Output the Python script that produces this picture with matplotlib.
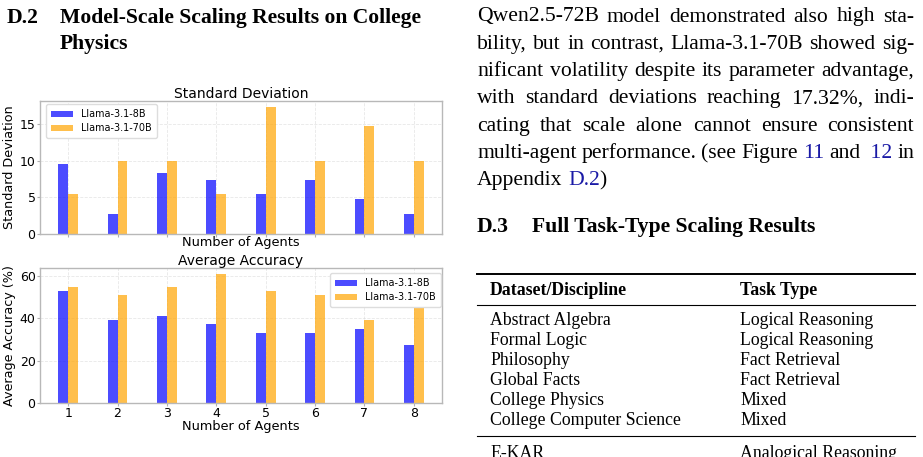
import matplotlib
matplotlib.use("Agg")
import matplotlib.pyplot as plt
import numpy as np
from matplotlib.lines import Line2D

W, H = 923, 457
agents = [1, 2, 3, 4, 5, 6, 7, 8]
models = ["Llama-3.1-8B", "Llama-3.1-70B"]
std_8b = [9.6, 2.7, 8.35, 7.35, 5.5, 7.35, 4.8, 2.7]
std_70b = [5.5, 10.0, 10.0, 5.5, 17.32, 10.0, 14.7, 10.0]
acc_8b = [52.7, 39.1, 41.0, 37.0, 33.1, 33.1, 35.1, 27.2]
acc_70b = [54.6, 50.7, 54.6, 60.6, 52.7, 50.7, 39.1, 45.0]

heading_d2 = ["Model-Scale Scaling Results on College", "Physics"]
body_lines = [
    [[("Qwen2.5-72B", "k")], [("model", "k")], [("demonstrated", "k")], [("also", "k")], [("high", "k")], [("sta-", "k")]],
    [[("bility,", "k")], [("but", "k")], [("in", "k")], [("contrast,", "k")], [("Llama-3.1-70B", "k")], [("showed", "k")], [("sig-", "k")]],
    [[("nificant", "k")], [("volatility", "k")], [("despite", "k")], [("its", "k")], [("parameter", "k")], [("advantage,", "k")]],
    [[("with", "k")], [("standard", "k")], [("deviations", "k")], [("reaching", "k")], [("17.32%,", "k")], [("indi-", "k")]],
    [[("cating", "k")], [("that", "k")], [("scale", "k")], [("alone", "k")], [("cannot", "k")], [("ensure", "k")], [("consistent", "k")]],
    [[("multi-agent", "k")], [("performance.", "k")], [("(see", "k")], [("Figure", "k")], [("11", "#1a1aa6")], [("and", "k")], [(" 12", "#1a1aa6")], [("in", "k")]],
    [[("Appendix", "k")], [("D.2", "#1a1aa6"), (")", "k")]],
]
table_header = ["Dataset/Discipline", "Task Type"]
table_rows = [
    ["Abstract Algebra", "Logical Reasoning"],
    ["Formal Logic", "Logical Reasoning"],
    ["Philosophy", "Fact Retrieval"],
    ["Global Facts", "Fact Retrieval"],
    ["College Physics", "Mixed"],
    ["College Computer Science", "Mixed"],
]
table_next = ["E-KAR", "Analogical Reasoning"]

fig = plt.figure(figsize=(W / 100, H / 100), dpi=100)
fig.patch.set_facecolor("white")

def fx(px):
    return px / W

def fy(py):
    return 1 - py / H

def style_ax(ax):
    for s in ax.spines.values():
        s.set_color("#b8b8b8")
        s.set_linewidth(1.0)
    ax.tick_params(axis="both", colors="#b0b0b0", labelcolor="black", labelsize=9, length=2.4, width=0.8, pad=0.8)
    ax.grid(True, linestyle="--", color="#d0d0d0", alpha=0.5, linewidth=0.6)
    ax.set_axisbelow(True)

x = np.array(agents, dtype=float)
bw = 0.2
leg_kw = dict(fontsize=6.9, frameon=True, handlelength=2.3, handleheight=0.6, borderpad=0.55,
              labelspacing=0.4, borderaxespad=0.0, edgecolor="#dddddd", framealpha=1.0)

ax1 = fig.add_axes([fx(40), fy(234), fx(442 - 40), (234 - 101) / H])
ax1.bar(x - bw / 2, std_8b, bw, color="blue", alpha=0.7, label=models[0])
ax1.bar(x + bw / 2, std_70b, bw, color="orange", alpha=0.7, label=models[1])
ax1.set_title("Standard Deviation", fontsize=10, pad=1.5)
ax1.set_ylabel("Standard Deviation", fontsize=9.2, labelpad=2.5)
ax1.set_xlabel("Number of Agents", fontsize=9.3, labelpad=-1.5)
ax1.set_xticks(agents)
ax1.set_xticklabels([])
ax1.set_yticks([0, 5, 10, 15])
style_ax(ax1)
ax1.legend(loc="upper left", bbox_to_anchor=(fx(46), fy(104)), bbox_transform=fig.transFigure, **leg_kw)

ax2 = fig.add_axes([fx(40), fy(403), fx(442 - 40), (403 - 268) / H])
ax2.bar(x - bw / 2, acc_8b, bw, color="blue", alpha=0.7, label=models[0])
ax2.bar(x + bw / 2, acc_70b, bw, color="orange", alpha=0.7, label=models[1])
ax2.set_title("Average Accuracy", fontsize=10, pad=1.5)
ax2.set_ylabel("Average Accuracy (%)", fontsize=9.2, labelpad=2.5)
ax2.set_xlabel("Number of Agents", fontsize=9.3, labelpad=-0.5)
ax2.set_xticks(agents)
ax2.set_xticklabels([str(a) for a in agents])
ax2.set_yticks([0, 20, 40, 60])
style_ax(ax2)
ax2.legend(loc="upper right", bbox_to_anchor=(fx(441), fy(273)), bbox_transform=fig.transFigure, **leg_kw)

serif = ["Liberation Serif", "DejaVu Serif"]
hfs = 15.6

# Heading D.2
fig.text(fx(7), fy(23), "D.2", fontsize=hfs, fontweight="bold", family=serif, va="baseline")
fig.text(fx(60), fy(23), heading_d2[0], fontsize=hfs, fontweight="bold", family=serif, va="baseline")
fig.text(fx(60), fy(48.5), heading_d2[1], fontsize=hfs, fontweight="bold", family=serif, va="baseline")

# Justified body text
renderer = fig.canvas.get_renderer()
left_px, right_px = 477, 914
base0, lstep = 21.5, 27.3
body_fs = 15.6

def measure(s):
    t = fig.text(0, 0, s, fontsize=body_fs, family=serif)
    w = t.get_window_extent(renderer).width
    t.remove()
    return w

for li, words in enumerate(body_lines):
    widths = []
    for word in words:
        widths.append(sum(measure(seg) for seg, _ in word))
    total = sum(widths)
    n = len(words)
    last = li == len(body_lines) - 1
    gap = measure("a a") - 2 * measure("a") if last else (right_px - left_px - total) / (n - 1)
    cx = left_px
    yb = base0 + li * lstep
    for word, wd in zip(words, widths):
        sx = cx
        for seg, col in word:
            fig.text(fx(sx), fy(yb), seg, fontsize=body_fs, family=serif, color=col, va="baseline")
            sx += measure(seg)
        cx += wd + gap

# Heading D.3
fig.text(fx(477), fy(232), "D.3", fontsize=hfs, fontweight="bold", family=serif, va="baseline")
fig.text(fx(532), fy(232), "Full Task-Type Scaling Results", fontsize=hfs, fontweight="bold", family=serif, va="baseline")

# Table
def hrule(py, lw):
    fig.add_artist(Line2D([fx(477), fx(915)], [fy(py), fy(py)], color="black", linewidth=lw, transform=fig.transFigure))

hrule(274, 1.4)
hrule(305, 0.8)
hrule(436, 0.8)
tfs = 12.8
fig.text(fx(490), fy(295), table_header[0], fontsize=tfs, fontweight="bold", family=serif, va="baseline")
fig.text(fx(740), fy(295), table_header[1], fontsize=tfs, fontweight="bold", family=serif, va="baseline")
for i, (a, b) in enumerate(table_rows):
    yb = 325 + i * 20
    fig.text(fx(490), fy(yb), a, fontsize=tfs, family=serif, va="baseline")
    fig.text(fx(740), fy(yb), b, fontsize=tfs, family=serif, va="baseline")
fig.text(fx(490), fy(458), table_next[0], fontsize=tfs, family=serif, va="baseline")
fig.text(fx(740), fy(458), table_next[1], fontsize=tfs, family=serif, va="baseline")

fig.savefig("out.png", dpi=100)
